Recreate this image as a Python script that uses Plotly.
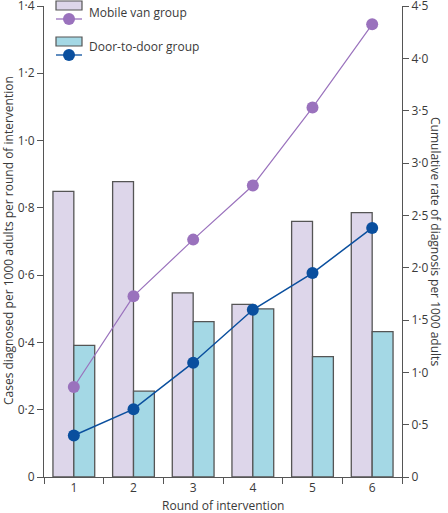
import plotly.graph_objects as go

rounds = ["1", "2", "3", "4", "5", "6"]
mobile_cases = [0.849, 0.878, 0.547, 0.513, 0.760, 0.786]
door_cases = [0.391, 0.255, 0.462, 0.500, 0.358, 0.432]
mobile_cum = [0.86, 1.728, 2.268, 2.785, 3.53, 4.325]
door_cum = [0.397, 0.648, 1.092, 1.598, 1.948, 2.38]

left_ticks = [0, 0.2, 0.4, 0.6, 0.8, 1.0, 1.2, 1.4]
left_labels = ["0", "0·2", "0·4", "0·6", "0·8", "1·0", "1·2", "1·4"]
right_ticks = [0, 0.5, 1.0, 1.5, 2.0, 2.5, 3.0, 3.5, 4.0, 4.5]
right_labels = ["0", "0·5", "1·0", "1·5", "2·0", "2·5", "3·0", "3·5", "4·0", "4·5"]

W, H = 448, 513
ML, MR, MT, MB = 44, 46, 6, 36
FONT = "Open Sans"
TXT = "#3a3a3a"
AX = "#555555"
C_MV_BAR = "#DDD6EA"
C_DD_BAR = "#A4D8E5"
C_MV_LINE = "#9A72BD"
C_DD_LINE = "#0A4F9E"

fig = go.Figure()
fig.add_trace(go.Bar(x=rounds, y=mobile_cases, name="Mobile van group",
                     marker=dict(color=C_MV_BAR, line=dict(color=AX, width=1.3)),
                     offsetgroup="a", showlegend=False))
fig.add_trace(go.Bar(x=rounds, y=door_cases, name="Door-to-door group",
                     marker=dict(color=C_DD_BAR, line=dict(color=AX, width=1.3)),
                     offsetgroup="b", showlegend=False))
fig.add_trace(go.Scatter(x=rounds, y=mobile_cum, yaxis="y2", mode="lines+markers",
                         line=dict(color=C_MV_LINE, width=1.2),
                         marker=dict(color=C_MV_LINE, size=12), showlegend=False))
fig.add_trace(go.Scatter(x=rounds, y=door_cum, yaxis="y2", mode="lines+markers",
                         line=dict(color=C_DD_LINE, width=1.5),
                         marker=dict(color=C_DD_LINE, size=12), showlegend=False))

pw = W - ML - MR
ph = H - MT - MB
def px(x):
    return (x - ML) / pw
def py(y):
    return (H - MB - y) / ph

shapes = []
annotations = []
legend_items = [("Mobile van group", C_MV_BAR, C_MV_LINE, 1, 19, 13),
                ("Door-to-door group", C_DD_BAR, C_DD_LINE, 37, 55, 47)]
for name, bc, lc, ytop, yline, ytext in legend_items:
    shapes.append(dict(type="rect", xref="paper", yref="paper",
                       x0=px(56), x1=px(82), y0=py(ytop + 9), y1=py(ytop),
                       fillcolor=bc, line=dict(color=AX, width=1.2)))
    shapes.append(dict(type="line", xref="paper", yref="paper",
                       x0=px(56), x1=px(82), y0=py(yline), y1=py(yline),
                       line=dict(color=lc, width=1.3)))
    shapes.append(dict(type="circle", xref="paper", yref="paper",
                       x0=px(63), x1=px(75), y0=py(yline + 6), y1=py(yline - 6),
                       fillcolor=lc, line=dict(color=lc, width=0)))
    annotations.append(dict(text=name, xref="paper", yref="paper",
                            x=px(87), y=py(ytext), xanchor="left", yanchor="middle",
                            showarrow=False, font=dict(family=FONT, size=12, color=TXT)))

title_font = dict(family=FONT, size=12, color=TXT)
annotations.append(dict(text="Cases diagnosed per 1000 adults per round of intervention",
                        xref="paper", yref="paper", x=px(8), y=py(241), textangle=-90,
                        xanchor="center", yanchor="middle", showarrow=False, font=title_font))
annotations.append(dict(text="Cumulative rate of diagnosis per 1000 adults",
                        xref="paper", yref="paper", x=px(436), y=py(241), textangle=90,
                        xanchor="center", yanchor="middle", showarrow=False, font=title_font))
annotations.append(dict(text="Round of intervention",
                        xref="paper", yref="paper", x=px(223), y=py(505),
                        xanchor="center", yanchor="middle", showarrow=False, font=title_font))

tick_font = dict(family=FONT, size=12, color=TXT)
fig.update_layout(
    width=W, height=H,
    margin=dict(l=ML, r=MR, t=MT, b=MB),
    plot_bgcolor="white", paper_bgcolor="white",
    barmode="group", bargap=0.3, bargroupgap=0,
    font=dict(family=FONT, size=12, color=TXT),
    shapes=shapes, annotations=annotations,
    xaxis=dict(type="category", categoryorder="array", categoryarray=rounds,
               tickson="boundaries", ticks="outside", ticklen=6, tickcolor=AX,
               showline=True, linecolor=AX, linewidth=1, showgrid=False,
               automargin=False, tickfont=tick_font),
    yaxis=dict(range=[0, 1.4 + 1e-6], tickvals=left_ticks, ticktext=left_labels,
               ticks="outside", ticklen=6, tickcolor=AX, showline=True,
               linecolor=AX, linewidth=1, showgrid=False, zeroline=False,
               automargin=False, tickfont=tick_font, ticklabeloverflow="allow"),
    yaxis2=dict(range=[0, 4.5 + 1e-6], tickvals=right_ticks, ticktext=right_labels,
                overlaying="y", side="right", anchor="x",
                ticks="outside", ticklen=6, tickcolor=AX, showline=True,
                linecolor=AX, linewidth=1, showgrid=False, zeroline=False,
                automargin=False, tickfont=tick_font, ticklabeloverflow="allow"),
)

fig.write_html("out.html", config={"displayModeBar": False},
               post_script="document.body.style.margin='0';document.body.style.overflow='hidden';")
